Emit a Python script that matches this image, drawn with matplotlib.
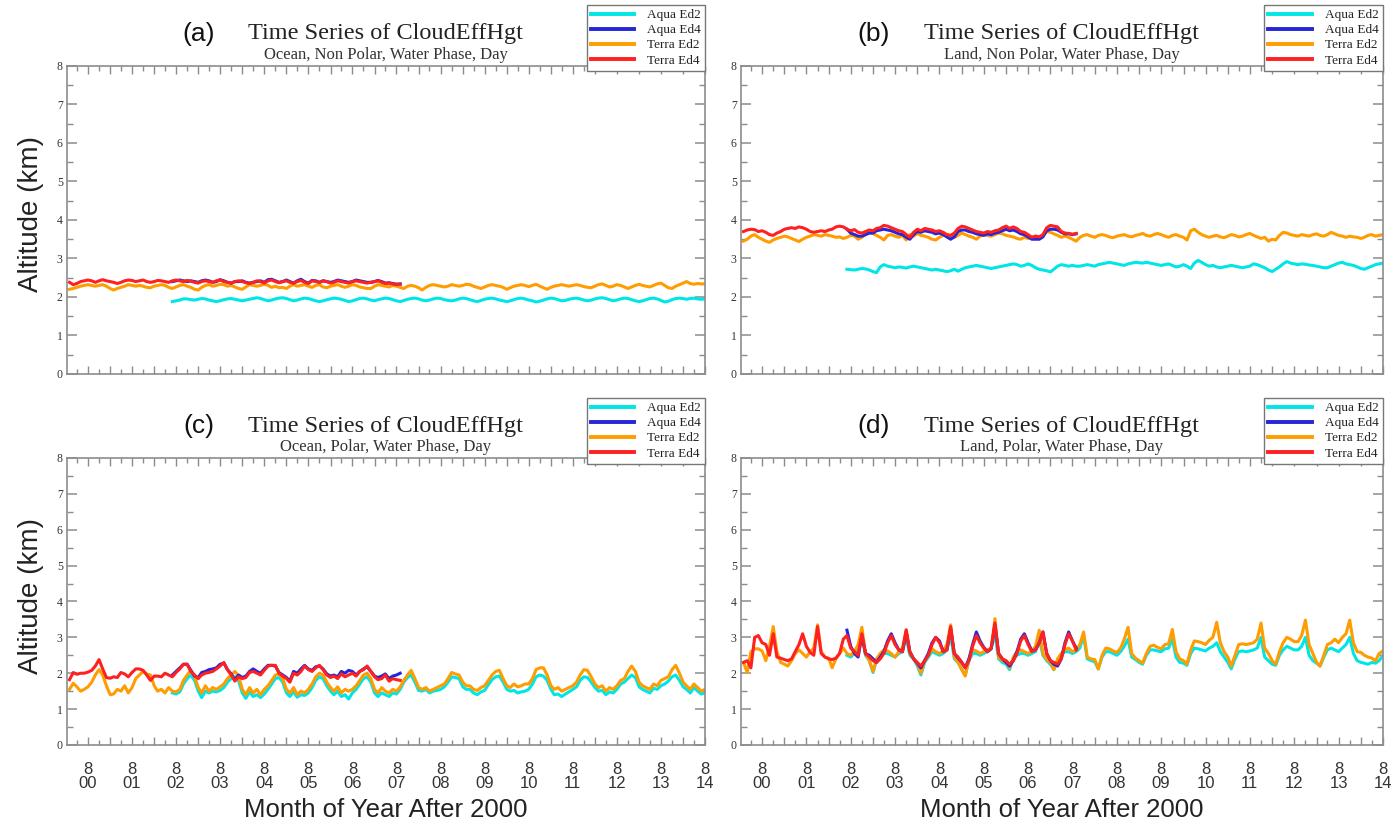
import numpy as np
import pandas as pd
import matplotlib
matplotlib.use('Agg')
import matplotlib.pyplot as plt
import matplotlib.dates as mdates
from matplotlib.lines import Line2D
from matplotlib.ticker import FuncFormatter, MultipleLocator

# monthly values, Terra from Mar 2000, Aqua from Jul 2002
terra_start = '2000-03-01'
aqua_start = '2002-07-01'

# (a) Ocean, Non Polar
a_aqua_ed2 = [1.88, 1.90, 1.92, 1.95, 1.95, 1.93,
              1.92, 1.94, 1.96, 1.95, 1.92, 1.90, 1.88, 1.90, 1.93, 1.95, 1.96, 1.94,
              1.92, 1.90, 1.92, 1.94, 1.96, 1.98, 1.96, 1.93, 1.90, 1.92, 1.95, 1.97,
              1.98, 1.96, 1.93, 1.90, 1.92, 1.95, 1.97, 1.96, 1.93, 1.90, 1.88, 1.90,
              1.93, 1.95, 1.97, 1.96, 1.94, 1.91, 1.88, 1.90, 1.93, 1.96, 1.97, 1.95,
              1.92, 1.90, 1.93, 1.95, 1.97, 1.96, 1.93, 1.90, 1.88, 1.91, 1.94, 1.96,
              1.97, 1.95, 1.92, 1.90, 1.92, 1.95, 1.97, 1.96, 1.93, 1.91, 1.90, 1.92,
              1.95, 1.97, 1.96, 1.93, 1.90, 1.88, 1.91, 1.94, 1.96, 1.97, 1.95, 1.92,
              1.90, 1.88, 1.90, 1.93, 1.96, 1.97, 1.95, 1.92, 1.90, 1.87, 1.89, 1.92,
              1.95, 1.97, 1.96, 1.93, 1.90, 1.91, 1.94, 1.96, 1.97, 1.95, 1.92, 1.90,
              1.92, 1.95, 1.97, 1.98, 1.96, 1.93, 1.90, 1.92, 1.95, 1.97, 1.96, 1.93,
              1.90, 1.88, 1.90, 1.93, 1.96, 1.97, 1.95, 1.91, 1.87, 1.89, 1.93, 1.96,
              1.97, 1.96, 1.94, 1.96, 1.97, 1.95, 1.94, 1.95]
a_aqua_ed4 = [2.40, 2.42, 2.44, 2.42, 2.40, 2.42,
              2.40, 2.38, 2.42, 2.44, 2.42, 2.38, 2.40, 2.45, 2.42, 2.38, 2.36, 2.40,
              2.40, 2.42, 2.38, 2.36, 2.38, 2.40, 2.42, 2.38, 2.45, 2.46, 2.42, 2.38,
              2.40, 2.44, 2.40, 2.36, 2.42, 2.46, 2.40, 2.36, 2.43, 2.42, 2.38, 2.42,
              2.40, 2.38, 2.40, 2.44, 2.42, 2.40, 2.38, 2.40, 2.44, 2.42, 2.40, 2.38,
              2.38, 2.40, 2.43, 2.40, 2.36, 2.37, 2.35, 2.33, 2.34]
a_terra_ed2 = [2.20, 2.22, 2.25, 2.28, 2.30, 2.32, 2.30, 2.28, 2.30, 2.32,
               2.28, 2.22, 2.18, 2.22, 2.25, 2.28, 2.32, 2.30, 2.28, 2.30, 2.28, 2.25,
               2.24, 2.28, 2.30, 2.32, 2.30, 2.25, 2.22, 2.26, 2.30, 2.32, 2.28, 2.25,
               2.20, 2.18, 2.25, 2.30, 2.32, 2.28, 2.30, 2.33, 2.32, 2.28, 2.30, 2.26,
               2.22, 2.20, 2.26, 2.32, 2.30, 2.28, 2.30, 2.33, 2.30, 2.25, 2.28, 2.24,
               2.25, 2.22, 2.28, 2.32, 2.28, 2.30, 2.32, 2.28, 2.25, 2.30, 2.32, 2.26,
               2.24, 2.28, 2.30, 2.32, 2.28, 2.25, 2.28, 2.32, 2.30, 2.26, 2.24, 2.22,
               2.22, 2.28, 2.32, 2.30, 2.28, 2.26, 2.30, 2.28, 2.25, 2.22, 2.28, 2.30,
               2.28, 2.24, 2.18, 2.25, 2.30, 2.32, 2.30, 2.28, 2.26, 2.28, 2.32, 2.30,
               2.28, 2.30, 2.33, 2.32, 2.28, 2.25, 2.22, 2.26, 2.30, 2.32, 2.30, 2.28,
               2.25, 2.20, 2.24, 2.28, 2.30, 2.32, 2.30, 2.27, 2.30, 2.33, 2.28, 2.24,
               2.20, 2.25, 2.28, 2.30, 2.32, 2.30, 2.28, 2.30, 2.32, 2.30, 2.27, 2.25,
               2.24, 2.28, 2.32, 2.34, 2.30, 2.26, 2.28, 2.32, 2.30, 2.26, 2.22, 2.26,
               2.30, 2.33, 2.30, 2.28, 2.26, 2.30, 2.34, 2.36, 2.30, 2.24, 2.22, 2.28,
               2.32, 2.36, 2.40, 2.35, 2.33, 2.35, 2.34, 2.34]
a_terra_ed4 = [2.38, 2.32, 2.35, 2.40, 2.42, 2.44, 2.42, 2.38, 2.42, 2.45,
               2.42, 2.40, 2.38, 2.35, 2.38, 2.42, 2.44, 2.43, 2.40, 2.42, 2.44, 2.40,
               2.38, 2.40, 2.43, 2.42, 2.40, 2.38, 2.42, 2.44, 2.42, 2.40, 2.43, 2.41,
               2.38, 2.36, 2.40, 2.42, 2.40, 2.38, 2.42, 2.44, 2.40, 2.38, 2.36, 2.40,
               2.42, 2.40, 2.37, 2.35, 2.38, 2.42, 2.40, 2.36, 2.42, 2.44, 2.40, 2.37,
               2.40, 2.42, 2.38, 2.36, 2.40, 2.43, 2.38, 2.35, 2.42, 2.40, 2.38, 2.42,
               2.40, 2.36, 2.38, 2.42, 2.40, 2.38, 2.36, 2.40, 2.42, 2.40, 2.38, 2.36,
               2.38, 2.40, 2.42, 2.38, 2.35, 2.36, 2.34, 2.33, 2.33]

# (b) Land, Non Polar
b_aqua_ed2 = [2.72, 2.71, 2.70, 2.72, 2.74, 2.73,
              2.70, 2.66, 2.63, 2.78, 2.84, 2.80, 2.78, 2.76, 2.78, 2.77, 2.75, 2.78,
              2.80, 2.78, 2.76, 2.74, 2.72, 2.70, 2.72, 2.70, 2.68, 2.66, 2.68, 2.72,
              2.67, 2.72, 2.76, 2.78, 2.80, 2.82, 2.80, 2.78, 2.76, 2.74, 2.76, 2.78,
              2.80, 2.82, 2.84, 2.86, 2.84, 2.80, 2.82, 2.86, 2.82, 2.76, 2.72, 2.70,
              2.68, 2.65, 2.72, 2.80, 2.84, 2.82, 2.80, 2.82, 2.80, 2.80, 2.82, 2.84,
              2.82, 2.80, 2.84, 2.86, 2.88, 2.90, 2.88, 2.86, 2.84, 2.82, 2.86, 2.88,
              2.90, 2.89, 2.88, 2.90, 2.88, 2.86, 2.84, 2.82, 2.84, 2.86, 2.82, 2.78,
              2.80, 2.84, 2.80, 2.74, 2.88, 2.95, 2.90, 2.84, 2.80, 2.82, 2.78, 2.76,
              2.78, 2.80, 2.82, 2.80, 2.78, 2.76, 2.78, 2.80, 2.86, 2.84, 2.80, 2.76,
              2.70, 2.66, 2.72, 2.78, 2.86, 2.92, 2.88, 2.86, 2.84, 2.86, 2.85, 2.83,
              2.82, 2.80, 2.78, 2.76, 2.76, 2.80, 2.84, 2.88, 2.90, 2.86, 2.84, 2.82,
              2.78, 2.74, 2.72, 2.76, 2.80, 2.84, 2.86, 2.88]
b_aqua_ed4 = [3.76, 3.66, 3.62, 3.58, 3.58, 3.62,
              3.66, 3.66, 3.72, 3.74, 3.76, 3.74, 3.72, 3.68, 3.64, 3.62, 3.55, 3.50,
              3.62, 3.70, 3.68, 3.72, 3.70, 3.68, 3.64, 3.66, 3.62, 3.56, 3.50, 3.56,
              3.70, 3.74, 3.74, 3.70, 3.68, 3.64, 3.62, 3.60, 3.64, 3.62, 3.66, 3.68,
              3.72, 3.76, 3.72, 3.74, 3.70, 3.64, 3.62, 3.56, 3.50, 3.50, 3.50, 3.56,
              3.72, 3.76, 3.76, 3.74, 3.68, 3.64, 3.64, 3.62, 3.64]
b_terra_ed2 = [3.45, 3.50, 3.58, 3.62, 3.55, 3.50, 3.45, 3.42, 3.48, 3.52,
               3.55, 3.58, 3.56, 3.52, 3.48, 3.44, 3.50, 3.55, 3.58, 3.62, 3.60, 3.58,
               3.62, 3.60, 3.58, 3.55, 3.56, 3.52, 3.55, 3.60, 3.58, 3.50, 3.55, 3.62,
               3.68, 3.65, 3.60, 3.55, 3.48, 3.60, 3.62, 3.58, 3.55, 3.60, 3.48, 3.62,
               3.58, 3.65, 3.60, 3.58, 3.55, 3.50, 3.48, 3.55, 3.60, 3.62, 3.58, 3.55,
               3.60, 3.66, 3.62, 3.58, 3.55, 3.50, 3.58, 3.62, 3.60, 3.58, 3.62, 3.66,
               3.64, 3.60, 3.58, 3.56, 3.52, 3.50, 3.55, 3.52, 3.55, 3.58, 3.56, 3.60,
               3.70, 3.68, 3.64, 3.60, 3.55, 3.58, 3.55, 3.50, 3.45, 3.55, 3.60, 3.62,
               3.58, 3.55, 3.60, 3.62, 3.60, 3.56, 3.54, 3.58, 3.60, 3.62, 3.58, 3.56,
               3.60, 3.62, 3.65, 3.60, 3.58, 3.62, 3.65, 3.62, 3.58, 3.55, 3.60, 3.62,
               3.58, 3.55, 3.48, 3.72, 3.76, 3.68, 3.62, 3.58, 3.55, 3.58, 3.60, 3.56,
               3.54, 3.58, 3.62, 3.60, 3.56, 3.58, 3.62, 3.65, 3.60, 3.56, 3.52, 3.55,
               3.45, 3.50, 3.48, 3.60, 3.68, 3.66, 3.62, 3.60, 3.58, 3.62, 3.60, 3.58,
               3.62, 3.64, 3.60, 3.58, 3.62, 3.68, 3.64, 3.60, 3.58, 3.55, 3.58, 3.56,
               3.55, 3.52, 3.55, 3.60, 3.62, 3.58, 3.60, 3.62]
b_terra_ed4 = [3.70, 3.74, 3.76, 3.75, 3.70, 3.72, 3.68, 3.62, 3.60, 3.66,
               3.70, 3.76, 3.78, 3.80, 3.78, 3.82, 3.80, 3.76, 3.70, 3.68, 3.70, 3.72,
               3.70, 3.74, 3.76, 3.82, 3.84, 3.82, 3.76, 3.72, 3.75, 3.68, 3.66, 3.70,
               3.74, 3.72, 3.78, 3.80, 3.86, 3.84, 3.80, 3.76, 3.72, 3.70, 3.62, 3.55,
               3.68, 3.76, 3.72, 3.78, 3.76, 3.74, 3.70, 3.72, 3.68, 3.62, 3.60, 3.66,
               3.78, 3.84, 3.82, 3.78, 3.74, 3.70, 3.68, 3.66, 3.70, 3.68, 3.72, 3.74,
               3.80, 3.84, 3.78, 3.82, 3.78, 3.70, 3.68, 3.62, 3.55, 3.58, 3.56, 3.62,
               3.80, 3.86, 3.84, 3.82, 3.70, 3.66, 3.65, 3.63, 3.65]

# (c) Ocean, Polar
c_aqua_ed2 = [1.45, 1.42, 1.48, 1.70, 1.85, 1.95,
              1.80, 1.50, 1.32, 1.50, 1.45, 1.50, 1.48, 1.52, 1.60, 1.75, 1.85, 1.90,
              1.78, 1.45, 1.30, 1.48, 1.35, 1.40, 1.32, 1.42, 1.55, 1.70, 1.85, 1.88,
              1.75, 1.45, 1.35, 1.48, 1.33, 1.40, 1.38, 1.45, 1.60, 1.80, 1.90, 1.85,
              1.65, 1.50, 1.40, 1.50, 1.35, 1.40, 1.28, 1.45, 1.55, 1.70, 1.85, 1.90,
              1.75, 1.45, 1.35, 1.45, 1.40, 1.35, 1.45, 1.42, 1.55, 1.75, 1.88, 1.95,
              1.75, 1.52, 1.50, 1.55, 1.45, 1.50, 1.52, 1.55, 1.62, 1.75, 1.90, 1.88,
              1.85, 1.62, 1.55, 1.55, 1.45, 1.40, 1.48, 1.52, 1.68, 1.82, 1.90, 1.92,
              1.75, 1.55, 1.50, 1.52, 1.45, 1.48, 1.50, 1.55, 1.70, 1.90, 1.95, 1.92,
              1.80, 1.55, 1.40, 1.42, 1.35, 1.42, 1.48, 1.55, 1.62, 1.80, 1.90, 1.88,
              1.75, 1.60, 1.50, 1.52, 1.40, 1.48, 1.45, 1.55, 1.70, 1.75, 1.85, 1.95,
              1.88, 1.62, 1.55, 1.50, 1.45, 1.58, 1.55, 1.65, 1.70, 1.78, 1.90, 1.95,
              1.80, 1.62, 1.55, 1.45, 1.60, 1.50, 1.42, 1.45]
c_aqua_ed4 = [1.95, 2.05, 2.15, 2.25, 2.25, 2.08,
              1.92, 1.88, 2.02, 2.05, 2.10, 2.12, 2.15, 2.25, 2.28, 2.10, 1.98, 1.82,
              1.95, 1.88, 1.92, 2.05, 2.12, 2.05, 2.00, 2.12, 2.22, 2.22, 2.20, 2.02,
              1.95, 1.88, 1.78, 2.05, 2.00, 2.12, 2.22, 2.12, 2.08, 2.18, 2.20, 2.12,
              1.98, 1.92, 1.95, 1.90, 2.05, 2.00, 2.08, 2.05, 1.95, 2.05, 2.12, 2.18,
              2.05, 1.92, 1.88, 1.92, 1.98, 1.85, 1.92, 1.95, 2.00]
c_terra_ed2 = [1.55, 1.72, 1.62, 1.50, 1.55, 1.62, 1.75, 1.95, 2.10, 1.95,
               1.65, 1.40, 1.42, 1.55, 1.50, 1.65, 1.45, 1.60, 1.85, 1.95, 2.05, 1.98,
               1.95, 1.65, 1.50, 1.55, 1.45, 1.60, 1.50, 1.48, 1.55, 1.80, 1.95, 2.08,
               1.90, 1.60, 1.45, 1.65, 1.50, 1.60, 1.55, 1.62, 1.70, 1.85, 1.95, 2.05,
               1.92, 1.55, 1.40, 1.60, 1.45, 1.55, 1.40, 1.55, 1.65, 1.80, 1.95, 1.98,
               1.85, 1.55, 1.45, 1.60, 1.40, 1.50, 1.45, 1.55, 1.70, 1.90, 2.00, 1.95,
               1.75, 1.60, 1.50, 1.62, 1.45, 1.55, 1.50, 1.55, 1.65, 1.80, 1.95, 2.00,
               1.85, 1.55, 1.45, 1.60, 1.50, 1.45, 1.55, 1.50, 1.62, 1.80, 1.95, 2.08,
               1.85, 1.60, 1.55, 1.60, 1.50, 1.55, 1.60, 1.65, 1.70, 1.85, 2.02, 1.98,
               1.95, 1.75, 1.65, 1.65, 1.55, 1.52, 1.60, 1.65, 1.80, 1.95, 2.05, 2.08,
               1.85, 1.65, 1.60, 1.70, 1.62, 1.65, 1.70, 1.70, 1.85, 2.10, 2.15, 2.15,
               1.95, 1.65, 1.55, 1.60, 1.50, 1.55, 1.60, 1.65, 1.75, 1.95, 2.10, 2.08,
               1.90, 1.70, 1.60, 1.65, 1.50, 1.60, 1.55, 1.65, 1.80, 1.85, 2.05, 2.20,
               2.05, 1.75, 1.65, 1.60, 1.55, 1.70, 1.65, 1.80, 1.85, 1.90, 2.10, 2.22,
               2.00, 1.75, 1.65, 1.55, 1.70, 1.60, 1.50, 1.55]
c_terra_ed4 = [1.82, 2.02, 1.97, 2.00, 2.00, 2.03, 2.08, 2.20, 2.38, 2.12,
               1.88, 1.86, 1.90, 1.88, 2.02, 1.98, 1.90, 2.02, 2.12, 2.12, 2.08, 1.95,
               1.80, 1.92, 1.92, 1.90, 2.00, 1.95, 1.90, 2.02, 2.12, 2.25, 2.25, 2.05,
               1.95, 1.85, 1.95, 2.00, 2.02, 2.05, 2.12, 2.20, 2.30, 2.10, 1.95, 1.78,
               1.90, 1.85, 1.88, 2.02, 2.05, 2.00, 1.95, 2.08, 2.20, 2.22, 2.22, 2.00,
               1.92, 1.85, 1.75, 2.00, 1.95, 2.05, 2.20, 2.10, 2.05, 2.15, 2.22, 2.10,
               1.95, 1.88, 1.92, 1.85, 1.98, 1.90, 1.95, 2.00, 1.92, 2.05, 2.10, 2.20,
               2.05, 1.90, 1.82, 1.85, 1.95, 1.78, 1.85, 1.82, 1.80]

# (d) Land, Polar
d_aqua_ed2 = [2.50, 2.45, 2.55, 2.70, 3.05, 2.50,
              2.35, 2.02, 2.35, 2.50, 2.55, 2.55, 2.50, 2.45, 2.55, 2.60, 3.00, 2.50,
              2.40, 2.20, 1.95, 2.30, 2.45, 2.60, 2.55, 2.50, 2.55, 2.65, 3.05, 2.40,
              2.30, 2.10, 1.95, 2.35, 2.55, 2.55, 2.50, 2.55, 2.60, 2.70, 3.10, 2.40,
              2.30, 2.25, 2.10, 2.40, 2.50, 2.55, 2.55, 2.50, 2.55, 2.60, 2.95, 2.50,
              2.35, 2.25, 2.10, 2.35, 2.50, 2.60, 2.60, 2.55, 2.60, 2.70, 3.05, 2.40,
              2.35, 2.32, 2.12, 2.45, 2.60, 2.60, 2.55, 2.50, 2.60, 2.75, 2.95, 2.45,
              2.38, 2.30, 2.25, 2.50, 2.65, 2.65, 2.62, 2.60, 2.68, 2.70, 2.95, 2.45,
              2.30, 2.28, 2.22, 2.55, 2.70, 2.68, 2.65, 2.62, 2.70, 2.75, 2.85, 2.60,
              2.45, 2.30, 2.12, 2.40, 2.60, 2.62, 2.60, 2.62, 2.65, 2.70, 3.00, 2.45,
              2.35, 2.25, 2.22, 2.50, 2.65, 2.75, 2.70, 2.65, 2.65, 2.75, 3.00, 2.50,
              2.35, 2.28, 2.20, 2.45, 2.65, 2.70, 2.65, 2.60, 2.70, 2.80, 3.00, 2.55,
              2.35, 2.30, 2.28, 2.25, 2.30, 2.28, 2.35, 2.50]
d_aqua_ed4 = [3.20, 2.75, 2.55, 2.45, 3.05, 2.55,
              2.50, 2.40, 2.30, 2.45, 2.60, 2.90, 3.10, 2.85, 2.65, 2.60, 3.15, 2.60,
              2.40, 2.28, 2.15, 2.35, 2.55, 2.85, 3.00, 2.90, 2.60, 2.65, 3.25, 2.55,
              2.42, 2.30, 2.15, 2.40, 2.80, 3.15, 2.90, 2.72, 2.60, 2.68, 3.35, 2.55,
              2.40, 2.30, 2.20, 2.35, 2.60, 2.95, 3.10, 2.85, 2.62, 2.65, 2.85, 3.15,
              2.55, 2.35, 2.25, 2.20, 2.40, 2.85, 3.15, 2.90, 2.70]
d_terra_ed2 = [2.30, 2.02, 2.60, 2.68, 2.68, 2.62, 2.35, 2.75, 3.30, 2.60,
               2.30, 2.25, 2.20, 2.35, 2.55, 2.65, 2.55, 2.45, 2.60, 2.70, 3.35, 2.60,
               2.45, 2.42, 2.15, 2.40, 2.55, 2.70, 2.55, 2.50, 2.60, 2.80, 3.28, 2.55,
               2.35, 2.05, 2.40, 2.55, 2.65, 2.62, 2.55, 2.45, 2.60, 2.70, 3.22, 2.55,
               2.40, 2.25, 2.00, 2.35, 2.50, 2.68, 2.60, 2.55, 2.62, 2.80, 3.35, 2.45,
               2.30, 2.10, 1.92, 2.40, 2.65, 2.62, 2.55, 2.60, 2.65, 2.70, 3.52, 2.45,
               2.35, 2.30, 2.15, 2.45, 2.60, 2.65, 2.60, 2.55, 2.62, 2.75, 3.20, 2.55,
               2.38, 2.30, 2.10, 2.40, 2.55, 2.65, 2.70, 2.60, 2.65, 2.80, 3.15, 2.45,
               2.40, 2.38, 2.12, 2.50, 2.70, 2.68, 2.62, 2.58, 2.70, 2.95, 3.28, 2.55,
               2.42, 2.35, 2.28, 2.55, 2.75, 2.78, 2.72, 2.68, 2.80, 2.82, 3.22, 2.60,
               2.40, 2.35, 2.25, 2.65, 2.90, 2.88, 2.85, 2.80, 2.92, 3.00, 3.42, 2.85,
               2.60, 2.45, 2.20, 2.50, 2.80, 2.82, 2.80, 2.82, 2.85, 2.95, 3.40, 2.70,
               2.55, 2.35, 2.25, 2.60, 2.85, 3.00, 2.95, 2.88, 2.88, 3.05, 3.48, 2.80,
               2.55, 2.30, 2.20, 2.50, 2.80, 2.85, 2.95, 2.85, 3.00, 3.10, 3.48, 2.85,
               2.60, 2.58, 2.50, 2.45, 2.42, 2.35, 2.55, 2.62]
d_terra_ed4 = [2.30, 2.35, 2.15, 3.00, 3.05, 2.85, 2.80, 2.50, 3.10, 2.45,
               2.42, 2.38, 2.35, 2.40, 2.60, 2.80, 3.10, 2.75, 2.58, 2.50, 3.30, 2.55,
               2.45, 2.40, 2.38, 2.42, 2.55, 2.95, 3.05, 2.70, 2.60, 2.50, 3.10, 2.55,
               2.45, 2.35, 2.30, 2.40, 2.55, 2.85, 3.05, 2.80, 2.65, 2.60, 3.20, 2.60,
               2.40, 2.30, 2.20, 2.35, 2.50, 2.80, 3.00, 2.85, 2.60, 2.65, 3.30, 2.55,
               2.45, 2.30, 2.15, 2.35, 2.75, 3.05, 2.85, 2.70, 2.60, 2.70, 3.40, 2.55,
               2.40, 2.35, 2.25, 2.35, 2.55, 2.90, 3.05, 2.80, 2.60, 2.65, 2.85, 3.15,
               2.55, 2.35, 2.30, 2.25, 2.40, 2.80, 3.10, 2.90, 2.65]

panel_tags = ['(a)', '(b)', '(c)', '(d)']
subtitles = ['Ocean, Non Polar, Water Phase, Day', 'Land, Non Polar, Water Phase, Day',
             'Ocean, Polar, Water Phase, Day', 'Land, Polar, Water Phase, Day']
series_names = ['Aqua Ed2', 'Aqua Ed4', 'Terra Ed2', 'Terra Ed4']
series_colors = ['#00e6e6', '#2626d9', '#ff9c00', '#ff2020']

panels = [
    [a_aqua_ed2, a_aqua_ed4, a_terra_ed2, a_terra_ed4],
    [b_aqua_ed2, b_aqua_ed4, b_terra_ed2, b_terra_ed4],
    [c_aqua_ed2, c_aqua_ed4, c_terra_ed2, c_terra_ed4],
    [d_aqua_ed2, d_aqua_ed4, d_terra_ed2, d_terra_ed4],
]
starts = [aqua_start, aqua_start, terra_start, terra_start]
draw_order = [0, 2, 1, 3]

rects = [
    [0.0479, 0.5478, 0.4564, 0.3724],
    [0.5300, 0.5478, 0.4592, 0.3724],
    [0.0479, 0.0992, 0.4564, 0.3470],
    [0.5300, 0.0992, 0.4592, 0.3470],
]

spine_col = '#8c8c8c'
text_col = '#333333'


def month_label(x, pos):
    d = mdates.num2date(x)
    return f'8\n{d.year % 100:02d}' if d.month == 8 else ''


fig = plt.figure(figsize=(13.98, 8.27), dpi=100)

for i, vals in enumerate(panels):
    ax = fig.add_axes(rects[i])
    for k in draw_order:
        t = pd.date_range(starts[k], periods=len(vals[k]), freq='MS')
        ax.plot(t, vals[k], color=series_colors[k], lw=2.2, solid_joinstyle='round')

    ax.set_xlim(pd.Timestamp('2000-02-09'), pd.Timestamp('2014-08-01'))
    ax.set_ylim(0, 8)

    for sp in ax.spines.values():
        sp.set_color(spine_col)
        sp.set_linewidth(1.2)

    ax.yaxis.set_major_locator(MultipleLocator(1))
    ax.yaxis.set_minor_locator(MultipleLocator(0.5))
    ax.xaxis.set_major_locator(mdates.MonthLocator(bymonth=[2, 8]))
    ax.xaxis.set_minor_locator(mdates.MonthLocator(bymonth=[5, 11]))
    ax.xaxis.set_major_formatter(FuncFormatter(month_label))

    ax.tick_params(which='both', direction='in', top=True, right=True, color=spine_col)
    ax.tick_params(axis='y', which='major', length=7, width=1.1, labelsize=8.5,
                   labelcolor=text_col, pad=3)
    ax.tick_params(axis='y', which='minor', length=4, width=1.0)
    ax.tick_params(axis='x', which='major', length=6, width=1.0)
    ax.tick_params(axis='x', which='minor', length=3.5, width=1.0)
    for lab in ax.get_yticklabels():
        lab.set_family('Liberation Serif')

    if i < 2:
        ax.tick_params(axis='x', labelbottom=False)
    else:
        ax.tick_params(axis='x', which='major', labelsize=12, labelcolor=text_col, pad=12)
        for lab in ax.get_xticklabels():
            lab.set_family('Liberation Sans')
            lab.set_linespacing(0.95)
        ax.set_xlabel('Month of Year After 2000', fontsize=18.5, family='Liberation Sans',
                      color='#222222')
        ax.xaxis.set_label_coords(0.5, -0.185)

    if i % 2 == 0:
        ax.set_ylabel('Altitude (km)', fontsize=20, family='Liberation Sans', color='#222222')
        ax.yaxis.set_label_coords(-0.036, 0.52)

    ytop = 1.104 if i < 2 else 1.111
    ysub = 1.036 if i < 2 else 1.038
    ax.text(0.207, ytop, panel_tags[i], transform=ax.transAxes, ha='center', va='center',
            fontsize=19, family='Liberation Sans', color='#111111')
    ax.text(0.5, ytop, 'Time Series of CloudEffHgt', transform=ax.transAxes,
            ha='center', va='center', fontsize=17.5, family='Liberation Serif', color='#222222')
    ax.text(0.5, ysub, subtitles[i], transform=ax.transAxes, ha='center', va='center',
            fontsize=12, family='Liberation Serif', color='#333333')

    handles = [Line2D([], [], color=c, lw=2.8) for c in series_colors]
    leg_top = 1.198 if i < 2 else 1.209
    leg = ax.legend(handles, series_names, loc='upper right', bbox_to_anchor=(1.0, leg_top),
                    borderaxespad=0, fancybox=False, framealpha=1, edgecolor='#777777',
                    prop={'family': 'Liberation Serif', 'size': 9.5}, handlelength=3.3,
                    labelspacing=0.22, borderpad=0.3, handletextpad=1.0)
    leg.get_frame().set_linewidth(1.0)
    leg.set_zorder(10)
    for txt in leg.get_texts():
        txt.set_color('#222222')

fig.savefig('out.png', dpi=100)
